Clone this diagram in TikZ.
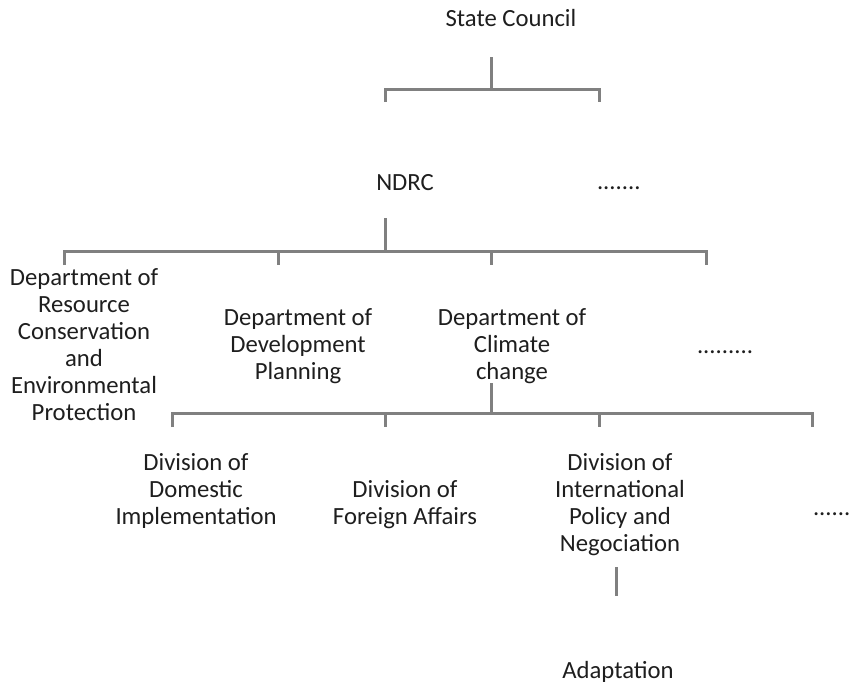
\documentclass[tikz,border=0pt]{standalone}
\usepackage{fontspec}
\setmainfont{Carlito}
\definecolor{txtc}{HTML}{1E1E1E}
\definecolor{linec}{HTML}{808080}
\tikzset{
  lbl/.style={inner sep=0pt, outer sep=0pt, align=center, text=txtc,
    font=\fontsize{24.7}{27}\selectfont, anchor=base},
  dots/.style={inner sep=0pt, outer sep=0pt, text=txtc,
    font=\fontsize{24.7}{27}\selectfont, anchor=base west},
  tree/.style={draw=linec, line width=3pt, line cap=butt}
}
\begin{document}
\begin{tikzpicture}[x=1pt,y=-1pt]
\useasboundingbox (0,0) rectangle (849,683);
% texts (multi-line nodes: base = baseline of last line)
\node[lbl] (sc) at (511,26) {State Council};
\node[lbl] (ndrc) at (405,190) {NDRC};
\node[dots] (d1) at (597,189) {.......};
\node[lbl] (res) at (84,420) {Department of\\Resource\\Conservation\\and\\Environmental\\Protection};
\node[lbl] (dev) at (298,379) {Department of\\Development\\Planning};
\node[lbl] (clim) at (512,379) {Department of\\Climate\\change};
\node[dots] (d2) at (697,353) {.........};
\node[lbl] (dom) at (196,524) {Division of\\Domestic\\Implementation};
\node[lbl] (for) at (405,524) {Division of\\Foreign Affairs};
\node[lbl] (int) at (620,551) {Division of\\International\\Policy and\\Negociation};
\node[dots] (d3) at (813,515) {......};
\node[lbl] (ada) at (618,678) {Adaptation};
% level 1
\coordinate (a0) at (491,57);
\coordinate (a1) at (491,89);
\coordinate (aL) at (385,89);
\coordinate (aR) at (599,89);
\coordinate (aLt) at (385,102);
\coordinate (aRt) at (599,102);
\draw[tree] (a0) -- (a1);
\draw[tree] (aLt) -- (aL) -- (aR) -- (aRt);
% level 2
\coordinate (b0) at (385,218);
\coordinate (b1) at (385,251);
\coordinate (bA) at (64,251);
\coordinate (bB) at (278,251);
\coordinate (bC) at (491,251);
\coordinate (bD) at (706,251);
\coordinate (bAt) at (64,265);
\coordinate (bBt) at (278,265);
\coordinate (bCt) at (491,265);
\coordinate (bDt) at (706,265);
\draw[tree] (b0) -- (b1);
\draw[tree] (bAt) -- (bA) -- (bD) -- (bDt);
\draw[tree] (bB) -- (bBt);
\draw[tree] (bC) -- (bCt);
% level 3
\coordinate (c0) at (491,383);
\coordinate (c1) at (491,413);
\coordinate (cA) at (172,413);
\coordinate (cB) at (385,413);
\coordinate (cC) at (599,413);
\coordinate (cD) at (812,413);
\coordinate (cAt) at (172,427);
\coordinate (cBt) at (385,427);
\coordinate (cCt) at (599,427);
\coordinate (cDt) at (812,427);
\draw[tree] (c0) -- (c1);
\draw[tree] (cAt) -- (cA) -- (cD) -- (cDt);
\draw[tree] (cB) -- (cBt);
\draw[tree] (cC) -- (cCt);
% level 4
\coordinate (e0) at (616,567);
\coordinate (e1) at (616,596);
\draw[tree] (e0) -- (e1);
\end{tikzpicture}
\end{document}
